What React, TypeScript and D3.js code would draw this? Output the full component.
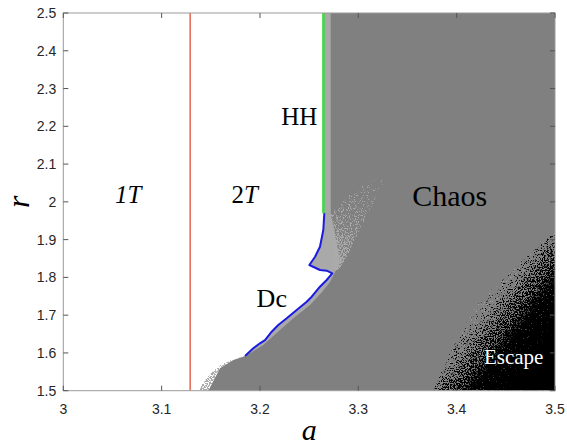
import React from 'react';
import * as d3 from 'd3';

const W = 567;
const H = 446;
const margin = { left: 63.3, right: 12, top: 13, bottom: 55.3 };

// axes
const aDomain = [3, 3.5];
const rDomain = [1.5, 2.5];
const aTicks = [3, 3.1, 3.2, 3.3, 3.4, 3.5];
const aTickLabels = ['3', '3.1', '3.2', '3.3', '3.4', '3.5'];
const rTicks = [1.5, 1.6, 1.7, 1.8, 1.9, 2, 2.1, 2.2, 2.3, 2.4, 2.5];
const rTickLabels = ['1.5', '1.6', '1.7', '1.8', '1.9', '2', '2.1', '2.2', '2.3', '2.4', '2.5'];

// period-doubling line (red) and Hopf line (green)
const flipA = 3.129;
const hopfA = 3.2645;
const hopfR = [1.9697, 2.5];

// Dc curve (blue)
const dcA = [3.2654, 3.2644, 3.261, 3.256, 3.2502, 3.261, 3.2678, 3.2735, 3.2678, 3.261, 3.2526, 3.2475, 3.2373, 3.2272, 3.2186, 3.2119, 3.2051, 3.2, 3.1932, 3.1848];
const dcR = [1.9697, 1.9255, 1.8812, 1.8548, 1.8328, 1.8196, 1.8177, 1.8108, 1.7931, 1.7753, 1.7489, 1.7356, 1.7137, 1.6917, 1.6739, 1.6562, 1.634, 1.6255, 1.6122, 1.5918];

// lower edge of chaotic region below the Dc curve
const edgeA = [3.1729, 3.1593, 3.1475];
const edgeR = [1.5813, 1.5593, 1.5];

// light region between Dc and dense chaos
const lightA = [3.2719, 3.2753, 3.2794, 3.2814, 3.2763, 3.2712, 3.2631, 3.2509, 3.2339, 3.2204, 3.2034, 3.1848];
const lightR = [1.9697, 1.9255, 1.8726, 1.8408, 1.8143, 1.7878, 1.7613, 1.7269, 1.6917, 1.6607, 1.621, 1.5905];

// sparse light cloud
const cloudA = [3.2719, 3.2813, 3.2935, 3.3047, 3.3139, 3.322, 3.3261, 3.32, 3.3118, 3.3037, 3.2966, 3.2895, 3.2814, 3.2763];
const cloudR = [1.9705, 1.997, 2.0235, 2.0446, 2.0578, 2.0631, 2.0525, 2.0181, 1.9784, 1.9387, 1.899, 1.8593, 1.8249, 1.8143];

// speckled fringe at the bottom
const fringeA = [3.1848, 3.1726, 3.1614, 3.1512, 3.1421, 3.138, 3.1475, 3.1593, 3.1729];
const fringeR = [1.5905, 1.5839, 1.5707, 1.5495, 1.523, 1.5, 1.5, 1.5593, 1.5813];

// escape region boundary
const escA = [3.3759, 3.3932, 3.4105, 3.4268, 3.4492, 3.4644, 3.4817, 3.5];
const escR = [1.5, 1.5998, 1.6872, 1.7481, 1.7984, 1.8408, 1.8778, 1.9202];

// annotations
const labelText = ['HH', 'Chaos', 'Dc', 'Escape'];
const labelA = [3.240, 3.393, 3.212, 3.458];
const labelR = [2.224, 2.015, 1.743, 1.589];
const labelSize = [25, 30, 26, 21];
const labelColor = ['#000', '#000', '#000', '#fff'];

const x = d3.scaleLinear().domain(aDomain).range([margin.left, W - margin.right]);
const y = d3.scaleLinear().domain(rDomain).range([H - margin.bottom, margin.top]);

const pts = (A: number[], R: number[]) => A.map((a, i) => [x(a), y(R[i])] as [number, number]);
const line = d3.line<[number, number]>();
const poly = (p: [number, number][]) => (line(p) || '') + 'Z';

// texture filter: density of dots follows the alpha of the filled shape
function Speckle({ id, color, seed }: { id: string; color: string; seed: number }) {
  return (
    <filter id={id} filterUnits="userSpaceOnUse" x={0} y={0} width={W} height={H} colorInterpolationFilters="sRGB">
      <feTurbulence type="fractalNoise" baseFrequency="0.85" numOctaves={2} seed={seed} result="noise" />
      <feColorMatrix in="noise" type="matrix" values="0 0 0 0 0  0 0 0 0 0  0 0 0 0 0  3 0 0 0 -0.8" result="na" />
      <feComposite in="SourceAlpha" in2="na" operator="arithmetic" k1={0} k2={6} k3={-4} k4={0} result="th" />
      <feFlood floodColor={color} result="fl" />
      <feComposite in="fl" in2="th" operator="in" />
    </filter>
  );
}

export default function App() {
  const plotL = x(3), plotR = x(3.5), plotT = y(2.5), plotB = y(1.5);

  const dc = pts(dcA, dcR);
  const edge = pts(edgeA, edgeR);
  const chaosPoly: [number, number][] = [
    [x(hopfA), y(2.5)],
    [x(hopfA), y(hopfR[0])],
    ...dc,
    ...edge,
    [x(3.5), y(1.5)],
    [x(3.5), y(2.5)],
  ];
  const light = pts(lightA, lightR);
  const lightPoly: [number, number][] = [...light, ...dc.slice().reverse()];
  const stripPoly: [number, number][] = [
    [x(hopfA), y(2.5)],
    [x(3.2719), y(2.5)],
    [x(3.2719), y(hopfR[0])],
    [x(hopfA), y(hopfR[0])],
  ];
  const cloud = pts(cloudA, cloudR);
  const fringe = pts(fringeA, fringeR);
  const esc = pts(escA, escR);
  const escPoly: [number, number][] = [...esc, [x(3.5), y(1.5)]];

  // gradient geometry for escape density (perpendicular to boundary)
  const gS: [number, number] = [x(3.438), y(1.7666)];
  const gE: [number, number] = [gS[0] + 110 * 0.79, gS[1] + 110 * 0.61];

  const tickLen = 5;
  const axisColor = '#9a9a9a';
  const tickColor = '#555';

  return (
    <svg width={W} height={H} style={{ position: 'absolute', left: 0, top: 0, background: '#fff' }}>
      <defs>
        <clipPath id="plotClip">
          <rect x={plotL} y={plotT} width={plotR - plotL} height={plotB - plotT} />
        </clipPath>
        <clipPath id="escClip">
          <path d={poly(escPoly)} />
        </clipPath>
        <clipPath id="cloudClip">
          <path d={poly(cloud)} />
        </clipPath>
        <clipPath id="fringeClip">
          <path d={poly(fringe)} />
        </clipPath>
        <linearGradient id="escGrad" gradientUnits="userSpaceOnUse" x1={gS[0]} y1={gS[1]} x2={gE[0]} y2={gE[1]}>
          <stop offset="0" stopColor="#000" stopOpacity={0.1} />
          <stop offset="0.2" stopColor="#000" stopOpacity={0.55} />
          <stop offset="0.45" stopColor="#000" stopOpacity={0.88} />
          <stop offset="0.8" stopColor="#000" stopOpacity={1} />
        </linearGradient>
        <linearGradient id="escLightGrad" gradientUnits="userSpaceOnUse" x1={gS[0]} y1={gS[1]} x2={gE[0]} y2={gE[1]}>
          <stop offset="0" stopColor="#000" stopOpacity={0.15} />
          <stop offset="0.35" stopColor="#000" stopOpacity={0.1} />
          <stop offset="0.7" stopColor="#000" stopOpacity={0.0} />
        </linearGradient>
        <linearGradient id="cloudGrad" gradientUnits="userSpaceOnUse" x1={x(3.276)} y1={y(1.83)} x2={x(3.322)} y2={y(2.06)}>
          <stop offset="0" stopColor="#000" stopOpacity={0.7} />
          <stop offset="0.5" stopColor="#000" stopOpacity={0.35} />
          <stop offset="1" stopColor="#000" stopOpacity={0.1} />
        </linearGradient>
        <Speckle id="spBlack" color="#000" seed={7} />
        <Speckle id="spEscLight" color="#a8a8a8" seed={19} />
        <Speckle id="spLight" color="#ababab" seed={3} />
        <Speckle id="spFringe" color="#a8a8a8" seed={11} />
      </defs>

      <g clipPath="url(#plotClip)">
        {/* dense chaotic region */}
        <path d={poly(chaosPoly)} fill="#808080" />
        {/* light bands */}
        <path d={poly(stripPoly)} fill="#a9a9a9" />
        <path d={poly(lightPoly)} fill="#a9a9a9" />
        <g clipPath="url(#cloudClip)">
          <path d={poly(cloud)} fill="url(#cloudGrad)" filter="url(#spLight)" />
        </g>
        <g clipPath="url(#fringeClip)">
          <path d={poly(fringe)} fill="rgba(0,0,0,0.6)" filter="url(#spFringe)" />
        </g>
        {/* escape region */}
        <g clipPath="url(#escClip)">
          <rect x={plotL} y={plotT} width={plotR - plotL} height={plotB - plotT} fill="url(#escGrad)" filter="url(#spBlack)" />
          <rect x={plotL} y={plotT} width={plotR - plotL} height={plotB - plotT} fill="url(#escLightGrad)" filter="url(#spEscLight)" />
        </g>
        {/* bifurcation curves */}
        <line x1={x(flipA)} x2={x(flipA)} y1={y(1.5)} y2={y(2.5)} stroke="#e3654f" strokeWidth={1.5} />
        <line x1={x(hopfA)} x2={x(hopfA)} y1={y(hopfR[0])} y2={y(hopfR[1])} stroke="#3ddc3d" strokeWidth={2.5} />
        <path d={line(dc) || ''} fill="none" stroke="#1a1ae0" strokeWidth={2} strokeLinejoin="round" />
      </g>

      {/* axes box */}
      <rect x={plotL} y={plotT} width={plotR - plotL} height={plotB - plotT} fill="none" stroke={axisColor} strokeWidth={1} />
      {aTicks.map((t, i) => (
        <g key={'xt' + i}>
          <line x1={x(t)} x2={x(t)} y1={plotB} y2={plotB - tickLen} stroke={tickColor} />
          <line x1={x(t)} x2={x(t)} y1={plotT} y2={plotT + tickLen} stroke={tickColor} />
          <text x={x(t)} y={plotB + 23} textAnchor="middle" fontFamily="Liberation Sans, Arial, sans-serif" fontSize={14} fill="#262626">
            {aTickLabels[i]}
          </text>
        </g>
      ))}
      {rTicks.map((t, i) => (
        <g key={'yt' + i}>
          <line x1={plotL} x2={plotL + tickLen} y1={y(t)} y2={y(t)} stroke={tickColor} />
          <line x1={plotR} x2={plotR - tickLen} y1={y(t)} y2={y(t)} stroke={tickColor} />
          <text x={plotL - 7} y={y(t) + 5} textAnchor="end" fontFamily="Liberation Sans, Arial, sans-serif" fontSize={14} fill="#262626">
            {rTickLabels[i]}
          </text>
        </g>
      ))}

      {/* axis labels */}
      <text x={(plotL + plotR) / 2} y={440} textAnchor="middle" fontFamily="Liberation Serif, serif" fontStyle="italic" fontSize={30} fill="#000">a</text>
      <text x={19} y={y(2)} textAnchor="middle" fontFamily="Liberation Serif, serif" fontStyle="italic" fontSize={32} fill="#000"
        transform={`rotate(-90, 19, ${y(2)})`} dy={10}>r</text>

      {/* region labels */}
      <text x={x(3.066)} y={y(2.018)} dy={8} textAnchor="middle" fontFamily="Liberation Serif, serif" fontStyle="italic" fontSize={25} fill="#000">1T</text>
      <text x={x(3.1845)} y={y(2.018)} dy={8} textAnchor="middle" fontFamily="Liberation Serif, serif" fontSize={25} fill="#000">
        2<tspan fontStyle="italic">T</tspan>
      </text>
      {labelText.map((t, i) => (
        <text key={'lb' + i} x={x(labelA[i])} y={y(labelR[i])} dy={labelSize[i] * 0.33} textAnchor="middle"
          fontFamily="Liberation Serif, serif" fontSize={labelSize[i]} fill={labelColor[i]}>
          {t}
        </text>
      ))}
    </svg>
  );
}
